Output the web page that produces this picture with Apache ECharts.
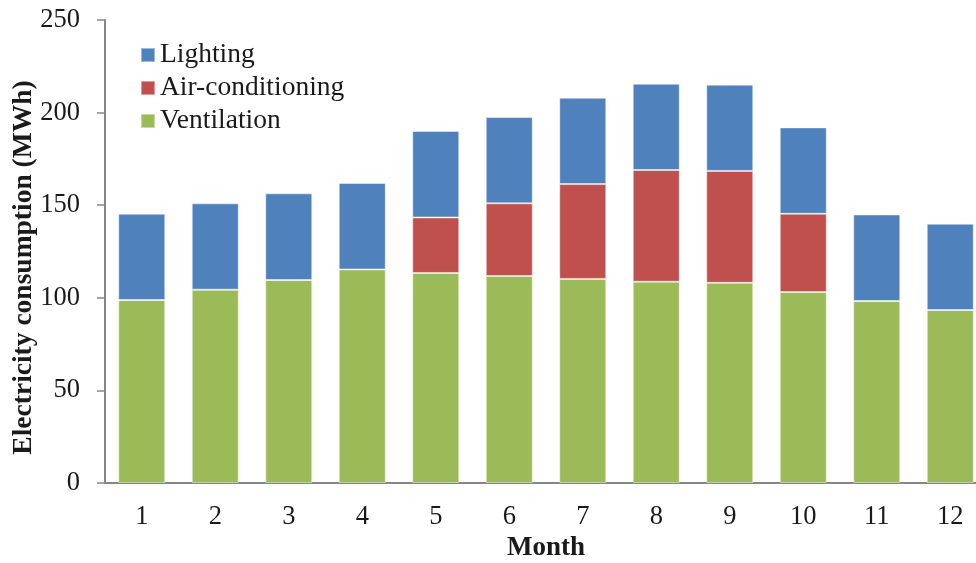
<!DOCTYPE html>
<html>
<head>
<meta charset="utf-8">
<script src="https://cdn.jsdelivr.net/npm/echarts@6/dist/echarts.min.js"></script>
<style>
html,body{margin:0;padding:0;background:#fff;}
#chart{width:976px;height:563px;}
</style>
</head>
<body>
<div id="chart"></div>
<script>
var months = ['1','2','3','4','5','6','7','8','9','10','11','12'];
var ventilation = [98.8,104.4,109.6,115.3,113.4,111.8,110.2,108.7,108.1,103.1,98.3,93.4];
var airConditioning = [0,0,0,0,30.0,39.2,51.2,60.3,60.4,42.3,0,0];
var lighting = [46.6,46.6,46.8,46.7,46.7,46.6,46.6,46.6,46.6,46.6,46.7,46.6];

var FONT = '"Liberation Serif", "Times New Roman", serif';
var chart = echarts.init(document.getElementById('chart'), null, {renderer:'canvas'});
var barStyle = function(c){ return {color:c, borderColor:'rgba(255,255,255,0.45)', borderWidth:1}; };
chart.setOption({
  animation:false,
  backgroundColor:'#fff',
  grid:{left:105, top:20, width:882, height:463, containLabel:false, outerBoundsMode:'none'},
  legend:{
    orient:'vertical', left:140, top:41, padding:0, itemWidth:14, itemHeight:14, itemGap:5,
    icon:'rect',
    data:['Lighting','Air-conditioning','Ventilation'],
    textStyle:{fontFamily:FONT, fontSize:27.5, color:'#1a1a1a'}
  },
  xAxis:{
    type:'category', data:months,
    name:'Month', nameLocation:'middle', nameGap:52, nameMoveOverlap:false,
    nameTextStyle:{fontFamily:FONT, fontSize:27, fontWeight:'bold', color:'#1a1a1a'},
    axisLine:{lineStyle:{color:'#868686', width:2}},
    axisTick:{show:false},
    axisLabel:{fontFamily:FONT, fontSize:26.5, color:'#1a1a1a', margin:21}
  },
  yAxis:{
    type:'value', min:0, max:250, interval:50,
    name:'Electricity consumption (MWh)', nameLocation:'middle', nameGap:67, nameMoveOverlap:false,
    nameTextStyle:{fontFamily:FONT, fontSize:27.5, fontWeight:'bold', color:'#1a1a1a', padding:[0,32,0,0]},
    axisLine:{show:true, lineStyle:{color:'#868686', width:2}},
    axisTick:{show:true, length:8, inside:false, lineStyle:{color:'#868686', width:1.5}},
    splitLine:{show:false},
    axisLabel:{fontFamily:FONT, fontSize:26.5, color:'#1a1a1a', margin:25}
  },
  series:[
    {name:'Ventilation', type:'bar', stack:'t', barWidth:47, data:ventilation, itemStyle:barStyle('#9BBB59')},
    {name:'Air-conditioning', type:'bar', stack:'t', barWidth:47, data:airConditioning, itemStyle:barStyle('#C0504D')},
    {name:'Lighting', type:'bar', stack:'t', barWidth:47, data:lighting, itemStyle:barStyle('#4F81BD')}
  ]
});
</script>
</body>
</html>
